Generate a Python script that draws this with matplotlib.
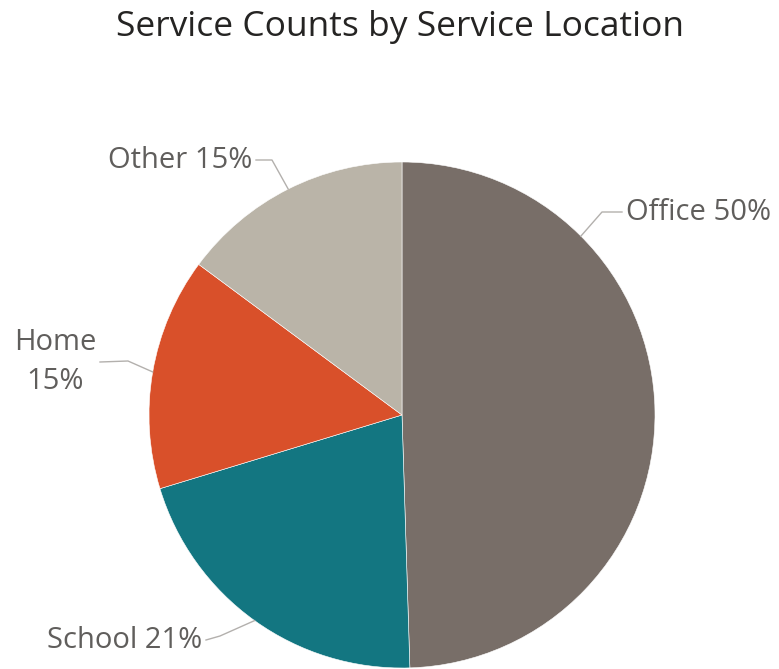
import numpy as np
import matplotlib
matplotlib.use("Agg")
import matplotlib.pyplot as plt

plt.rcParams['font.family'] = ['Open Sans', 'DejaVu Sans']

# slices, clockwise from 12 o'clock
locations = ['Office', 'School', 'Home', 'Other']
counts = [50, 21, 15, 15]
colors = ['#786e68', '#137681', '#d9502a', '#bab4a8']

W, H = 779, 669
fig = plt.figure(figsize=(W / 100, H / 100), dpi=100)

cx, cy, r = 402, 415, 253
ax = fig.add_axes([(cx - r) / W, (H - cy - r) / H, 2 * r / W, 2 * r / H])
ax.set_xlim(-1, 1)
ax.set_ylim(-1, 1)
ax.set_aspect('equal')
ax.axis('off')

wedges, _ = ax.pie(counts, colors=colors, startangle=90, counterclock=False,
                   radius=1, center=(0, 0), frame=False,
                   wedgeprops=dict(edgecolor='white', linewidth=0.4))
ax.set_xlim(-1, 1)
ax.set_ylim(-1, 1)

total = sum(counts)
txt_col = '#605e5c'
line_col = '#b3b0ad'

# leader line: angle on rim, elbow point, end point (px), text anchor
leaders = {
    'Office': (45, (602, 212), (622, 212), 'left', '{name} {pct}'),
    'School': (None, (220, 636), (206, 640), 'right', '{name} {pct}'),
    'Home': (None, (128, 361), (100, 362), 'right', '{name}\n{pct}'),
    'Other': (None, (272, 160), (256, 160), 'right', '{name} {pct}'),
}

def to_data(px, py):
    return (px - cx) / r, (cy - py) / r

for name, val, w in zip(locations, counts, wedges):
    ang, elbow, end, ha, fmt = leaders[name]
    if ang is None:
        ang = (w.theta1 + w.theta2) / 2
    a = np.deg2rad(ang)
    x0, y0 = np.cos(a) * 1.0, np.sin(a) * 1.0
    x1, y1 = to_data(*elbow)
    x2, y2 = to_data(*end)
    ax.plot([x0, x1, x2], [y0, y1, y2], color=line_col, lw=1, clip_on=False)
    pct = f"{round(val / total * 100)}%"
    label = fmt.format(name=name, pct=pct)
    tx = x2 + (0.015 if ha == 'left' else -0.015)
    ax.text(tx, y2, label, ha=ha, va='center', fontsize=21, color=txt_col,
            multialignment='center', clip_on=False, linespacing=1.45)

fig.text(400 / W, 1 - 27 / H, 'Service Counts by Service Location',
         ha='center', va='center', fontsize=25.5, color='#252423')

fig.savefig('out.png', dpi=100)
